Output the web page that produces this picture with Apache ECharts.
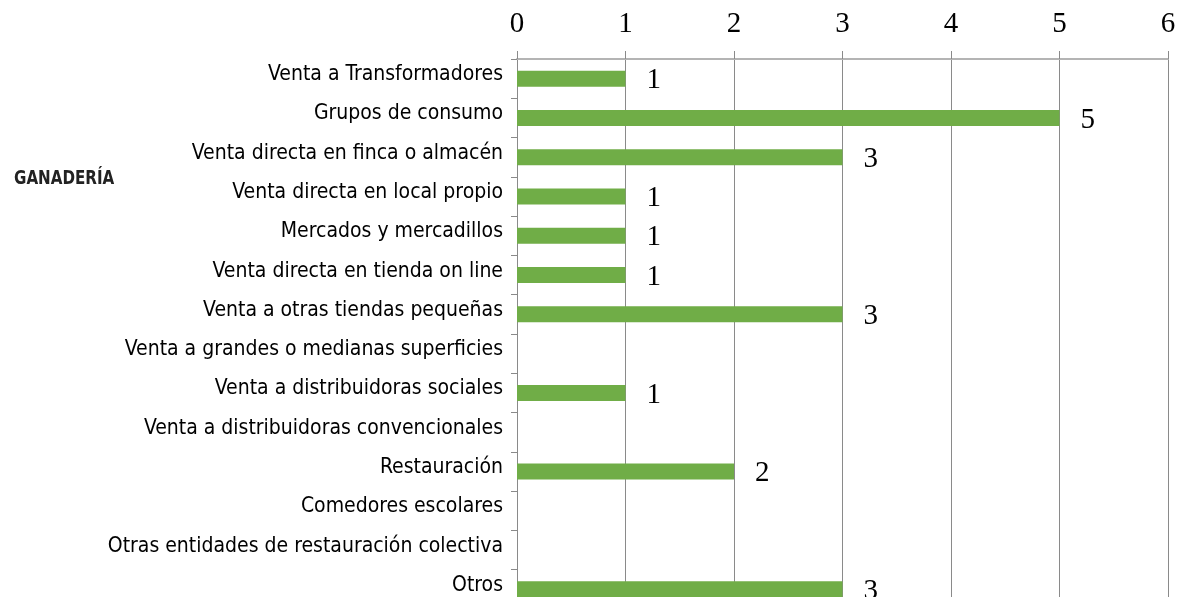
<!DOCTYPE html>
<html>
<head>
<meta charset="utf-8">
<script src="https://cdn.jsdelivr.net/npm/echarts@6/dist/echarts.min.js"></script>
<style>
  html, body { margin: 0; padding: 0; background: #fff; overflow: hidden; }
  /* the last row runs past the bottom edge of the window */
  #chart { width: 1183px; height: 620px; }
</style>
</head>
<body>
<div id="chart"></div>
<script>
// Canales de comercialización – ganadería
const categories = [
  'Venta a Transformadores',
  'Grupos de consumo',
  'Venta directa en finca o almacén',
  'Venta directa en local propio',
  'Mercados y mercadillos',
  'Venta directa en tienda on line',
  'Venta a otras tiendas pequeñas',
  'Venta a grandes o medianas superficies',
  'Venta a distribuidoras sociales',
  'Venta a distribuidoras convencionales',
  'Restauración',
  'Comedores escolares',
  'Otras entidades de restauración colectiva',
  'Otros'
];
const counts = [1, 5, 3, 1, 1, 1, 3, 0, 1, 0, 2, 0, 0, 3];
const sectorLabel = 'GANADERÍA';

const chart = echarts.init(document.getElementById('chart'), null, { renderer: 'canvas' });

const narrow = '"Liberation Sans Narrow", "DejaVu Sans Condensed", sans-serif';
const serif = '"Liberation Serif", "DejaVu Serif", serif';

chart.setOption({
  animation: false,
  backgroundColor: '#ffffff',
  grid: { left: 517, right: 15, top: 59, bottom: 11, containLabel: false },
  xAxis: {
    type: 'value',
    position: 'top',
    min: 0,
    max: 6,
    interval: 1,
    axisLine: { show: true, lineStyle: { color: '#b4b4b4', width: 2 } },
    axisTick: { show: true, length: 8, lineStyle: { color: '#8a8a8a', width: 1 } },
    axisLabel: { color: '#000', fontFamily: serif, fontSize: 29, margin: 20 },
    splitLine: { show: true, lineStyle: { color: '#8a8a8a', width: 1 } }
  },
  yAxis: {
    type: 'category',
    inverse: true,
    data: categories,
    axisLine: { show: true, lineStyle: { color: '#8a8a8a', width: 1 } },
    axisTick: { show: true, length: 6, lineStyle: { color: '#8a8a8a' } },
    axisLabel: {
      color: '#000',
      fontFamily: narrow,
      fontSize: 21,
      margin: 14,
      verticalAlign: 'bottom',
      lineHeight: 8
    }
  },
  series: [{
    type: 'bar',
    data: counts,
    barWidth: 16,
    itemStyle: { color: '#70ad47' },
    label: {
      show: true,
      position: 'right',
      distance: 21,
      offset: [0, 2],
      color: '#000',
      fontFamily: serif,
      fontSize: 29,
      formatter: p => (p.value ? String(p.value) : '')
    }
  }],
  graphic: [{
    type: 'text',
    left: 14,
    top: 169,
    scaleX: 0.84,
    style: {
      text: sectorLabel,
      fill: '#222',
      font: 'bold 20px ' + narrow
    }
  }]
});
</script>
</body>
</html>
